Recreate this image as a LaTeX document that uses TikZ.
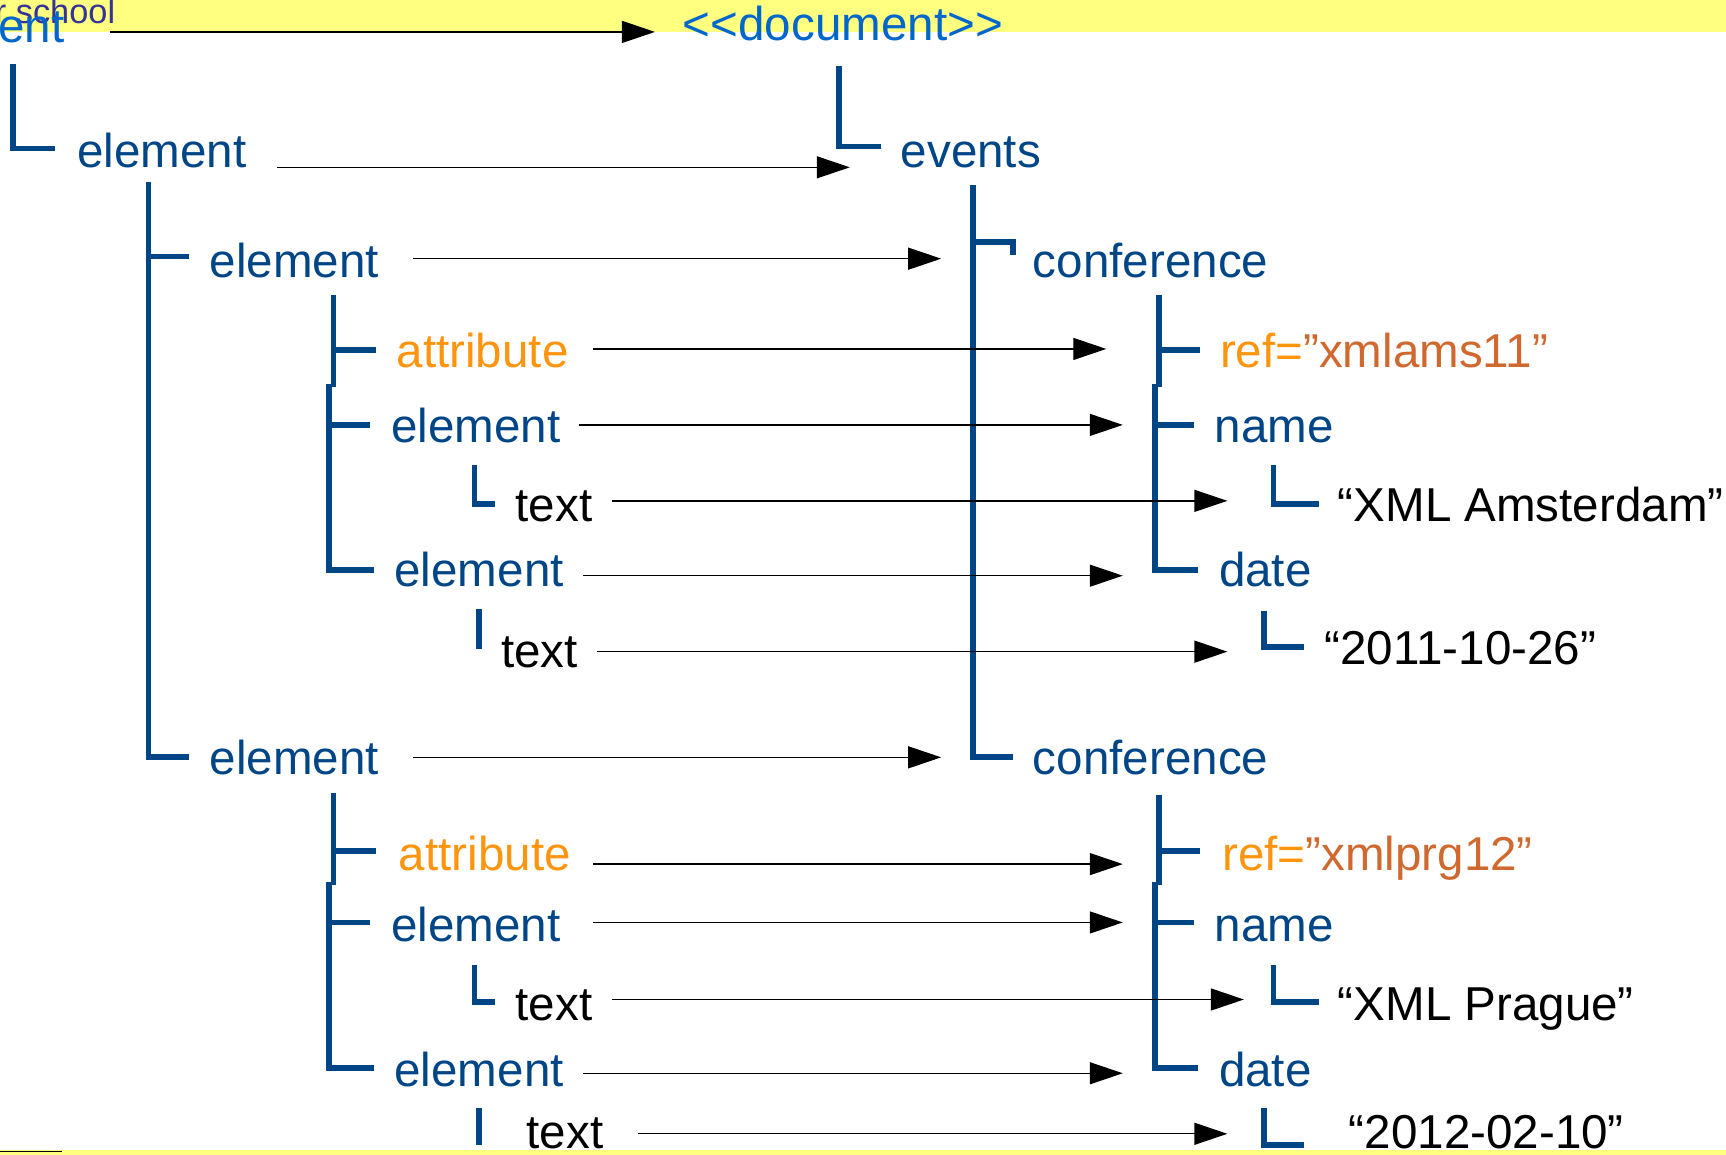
\documentclass[tikz,border=0pt]{standalone}
\usepackage{fontspec}
\setmainfont{Liberation Sans}
\usetikzlibrary{arrows.meta}
\definecolor{dblue}{HTML}{004586}
\definecolor{lblue}{HTML}{0066CC}
\definecolor{aorange}{HTML}{FF950E}
\definecolor{vbrown}{HTML}{D0692F}
\definecolor{indigo}{HTML}{333399}
\definecolor{band}{HTML}{FFFF80}
\begin{document}
\begin{tikzpicture}[x=0.5pt,y=-0.5pt,
  lbl/.style={anchor=base west, inner sep=0pt, font=\fontsize{21.6}{26}\selectfont},
  elem/.style={lbl, text=dblue},
  attr/.style={lbl, text=aorange},
  txt/.style={lbl, text=black},
  tree/.style={draw=dblue, line width=2.6pt, line join=miter},
  arr/.style={draw=black, line width=0.6pt, -{Triangle[length=15pt,width=10pt]}}]
\useasboundingbox (0,0) rectangle (1568,1049);
% bands
\fill[band] (0,0) rectangle (1568,29);
\fill[band] (0,1045) rectangle (1568,1049);
\draw[black, line width=0.8pt] (0,1046) -- (56,1046);

% top labels
\node[lbl, text=indigo, font=\fontsize{15.6}{18}\selectfont] (school) at (-5,21) {r school};
\node[lbl, text=lblue] (ent) at (-2,39) {ent};
\node[lbl, text=lblue] (doc) at (620,37) {<\kern0pt<document>\kern0pt>};

% left column
\node[elem] (e1) at (70,152) {element};
\node[elem] (e2) at (190,252) {element};
\node[attr] (a1) at (360,334) {attribute};
\node[elem] (e3) at (355,402) {element};
\node[txt] (t1) at (468,474) {text};
\node[elem] (e4) at (358,533) {element};
\node[txt] (t2) at (455,606) {text};
\node[elem] (e5) at (190,704) {element};
\node[attr] (a2) at (362,791) {attribute};
\node[elem] (e6) at (355,855) {element};
\node[txt] (t3) at (468,927) {text};
\node[elem] (e7) at (358,987) {element};
\node[txt] (t4) at (478,1043) {text};

% right column
\node[elem] (events) at (818,152) {events};
\node[elem] (conf1) at (938,252) {conference};
\node[lbl] (ref1) at (1108,334) {\textcolor{aorange}{ref=}\textcolor{vbrown}{”xmlams11”}};
\node[elem] (name1) at (1103,402) {name};
\node[txt] (v1) at (1215,474) {“XML Amsterdam”};
\node[elem] (date1) at (1107,533) {date};
\node[txt] (v2) at (1203,604) {“2011-10-26”};
\node[elem] (conf2) at (938,704) {conference};
\node[lbl] (ref2) at (1110,791) {\textcolor{aorange}{ref=}\textcolor{vbrown}{”xmlprg12”}};
\node[elem] (name2) at (1103,855) {name};
\node[txt] (v3) at (1215,927) {“XML Prague”};
\node[elem] (date2) at (1107,987) {date};
\node[txt] (v4) at (1225,1043) {“2012-02-10”};

% left tree
\draw[tree] (12,58) -- (12,135) -- (50,135);
\draw[tree] (135,165) -- (135,688) -- (172,688);
\draw[tree] (135,233) -- (172,233);
\draw[tree] (303,268) -- (303,352);
\draw[tree] (299,349) -- (299,518) -- (340,518);
\draw[tree] (303,318) -- (342,318);
\draw[tree] (299,386) -- (336,386);
\draw[tree] (431,422) -- (431,458) -- (450,458);
\draw[tree] (435,553) -- (435,590);
\draw[tree] (303,720) -- (303,804);
\draw[tree] (299,801) -- (299,970) -- (340,970);
\draw[tree] (303,773) -- (342,773);
\draw[tree] (299,838) -- (336,838);
\draw[tree] (431,877) -- (431,910) -- (450,910);
\draw[tree] (435,1007) -- (435,1040);

% right tree
\draw[tree] (762,60) -- (762,133) -- (800,133);
\draw[tree] (884,168) -- (884,688) -- (920,688);
\draw[tree] (884,220) -- (920,220) -- (920,232);
\draw[tree] (1053,268) -- (1053,352);
\draw[tree] (1049,349) -- (1049,518) -- (1088,518);
\draw[tree] (1053,318) -- (1090,318);
\draw[tree] (1049,386) -- (1085,386);
\draw[tree] (1157,422) -- (1157,458) -- (1198,458);
\draw[tree] (1148,555) -- (1148,588) -- (1185,588);
\draw[tree] (1053,722) -- (1053,804);
\draw[tree] (1049,801) -- (1049,970) -- (1088,970);
\draw[tree] (1053,773) -- (1090,773);
\draw[tree] (1049,838) -- (1085,838);
\draw[tree] (1157,877) -- (1157,910) -- (1198,910);
\draw[tree] (1148,1007) -- (1148,1040) -- (1185,1040);

% arrow end points
\coordinate (s0) at (100,29);   \coordinate (d0) at (595,29);
\coordinate (s1) at (252,152);  \coordinate (d1) at (772,152);
\coordinate (s2) at (375,235);  \coordinate (d2) at (855,235);
\coordinate (s3) at (539,317);  \coordinate (d3) at (1005,317);
\coordinate (s4) at (526,386);  \coordinate (d4) at (1020,386);
\coordinate (s5) at (556,455);  \coordinate (d5) at (1115,455);
\coordinate (s6) at (530,523);  \coordinate (d6) at (1020,523);
\coordinate (s7) at (542,592);  \coordinate (d7) at (1115,592);
\coordinate (s8) at (375,688);  \coordinate (d8) at (855,688);
\coordinate (s9) at (539,785);  \coordinate (d9) at (1020,785);
\coordinate (s10) at (539,838); \coordinate (d10) at (1020,838);
\coordinate (s11) at (556,908); \coordinate (d11) at (1130,908);
\coordinate (s12) at (530,975); \coordinate (d12) at (1020,975);
\coordinate (s13) at (580,1030); \coordinate (d13) at (1115,1030);
\foreach \i in {0,...,13} { \draw[arr] (s\i) -- (d\i); }
\end{tikzpicture}
\end{document}
